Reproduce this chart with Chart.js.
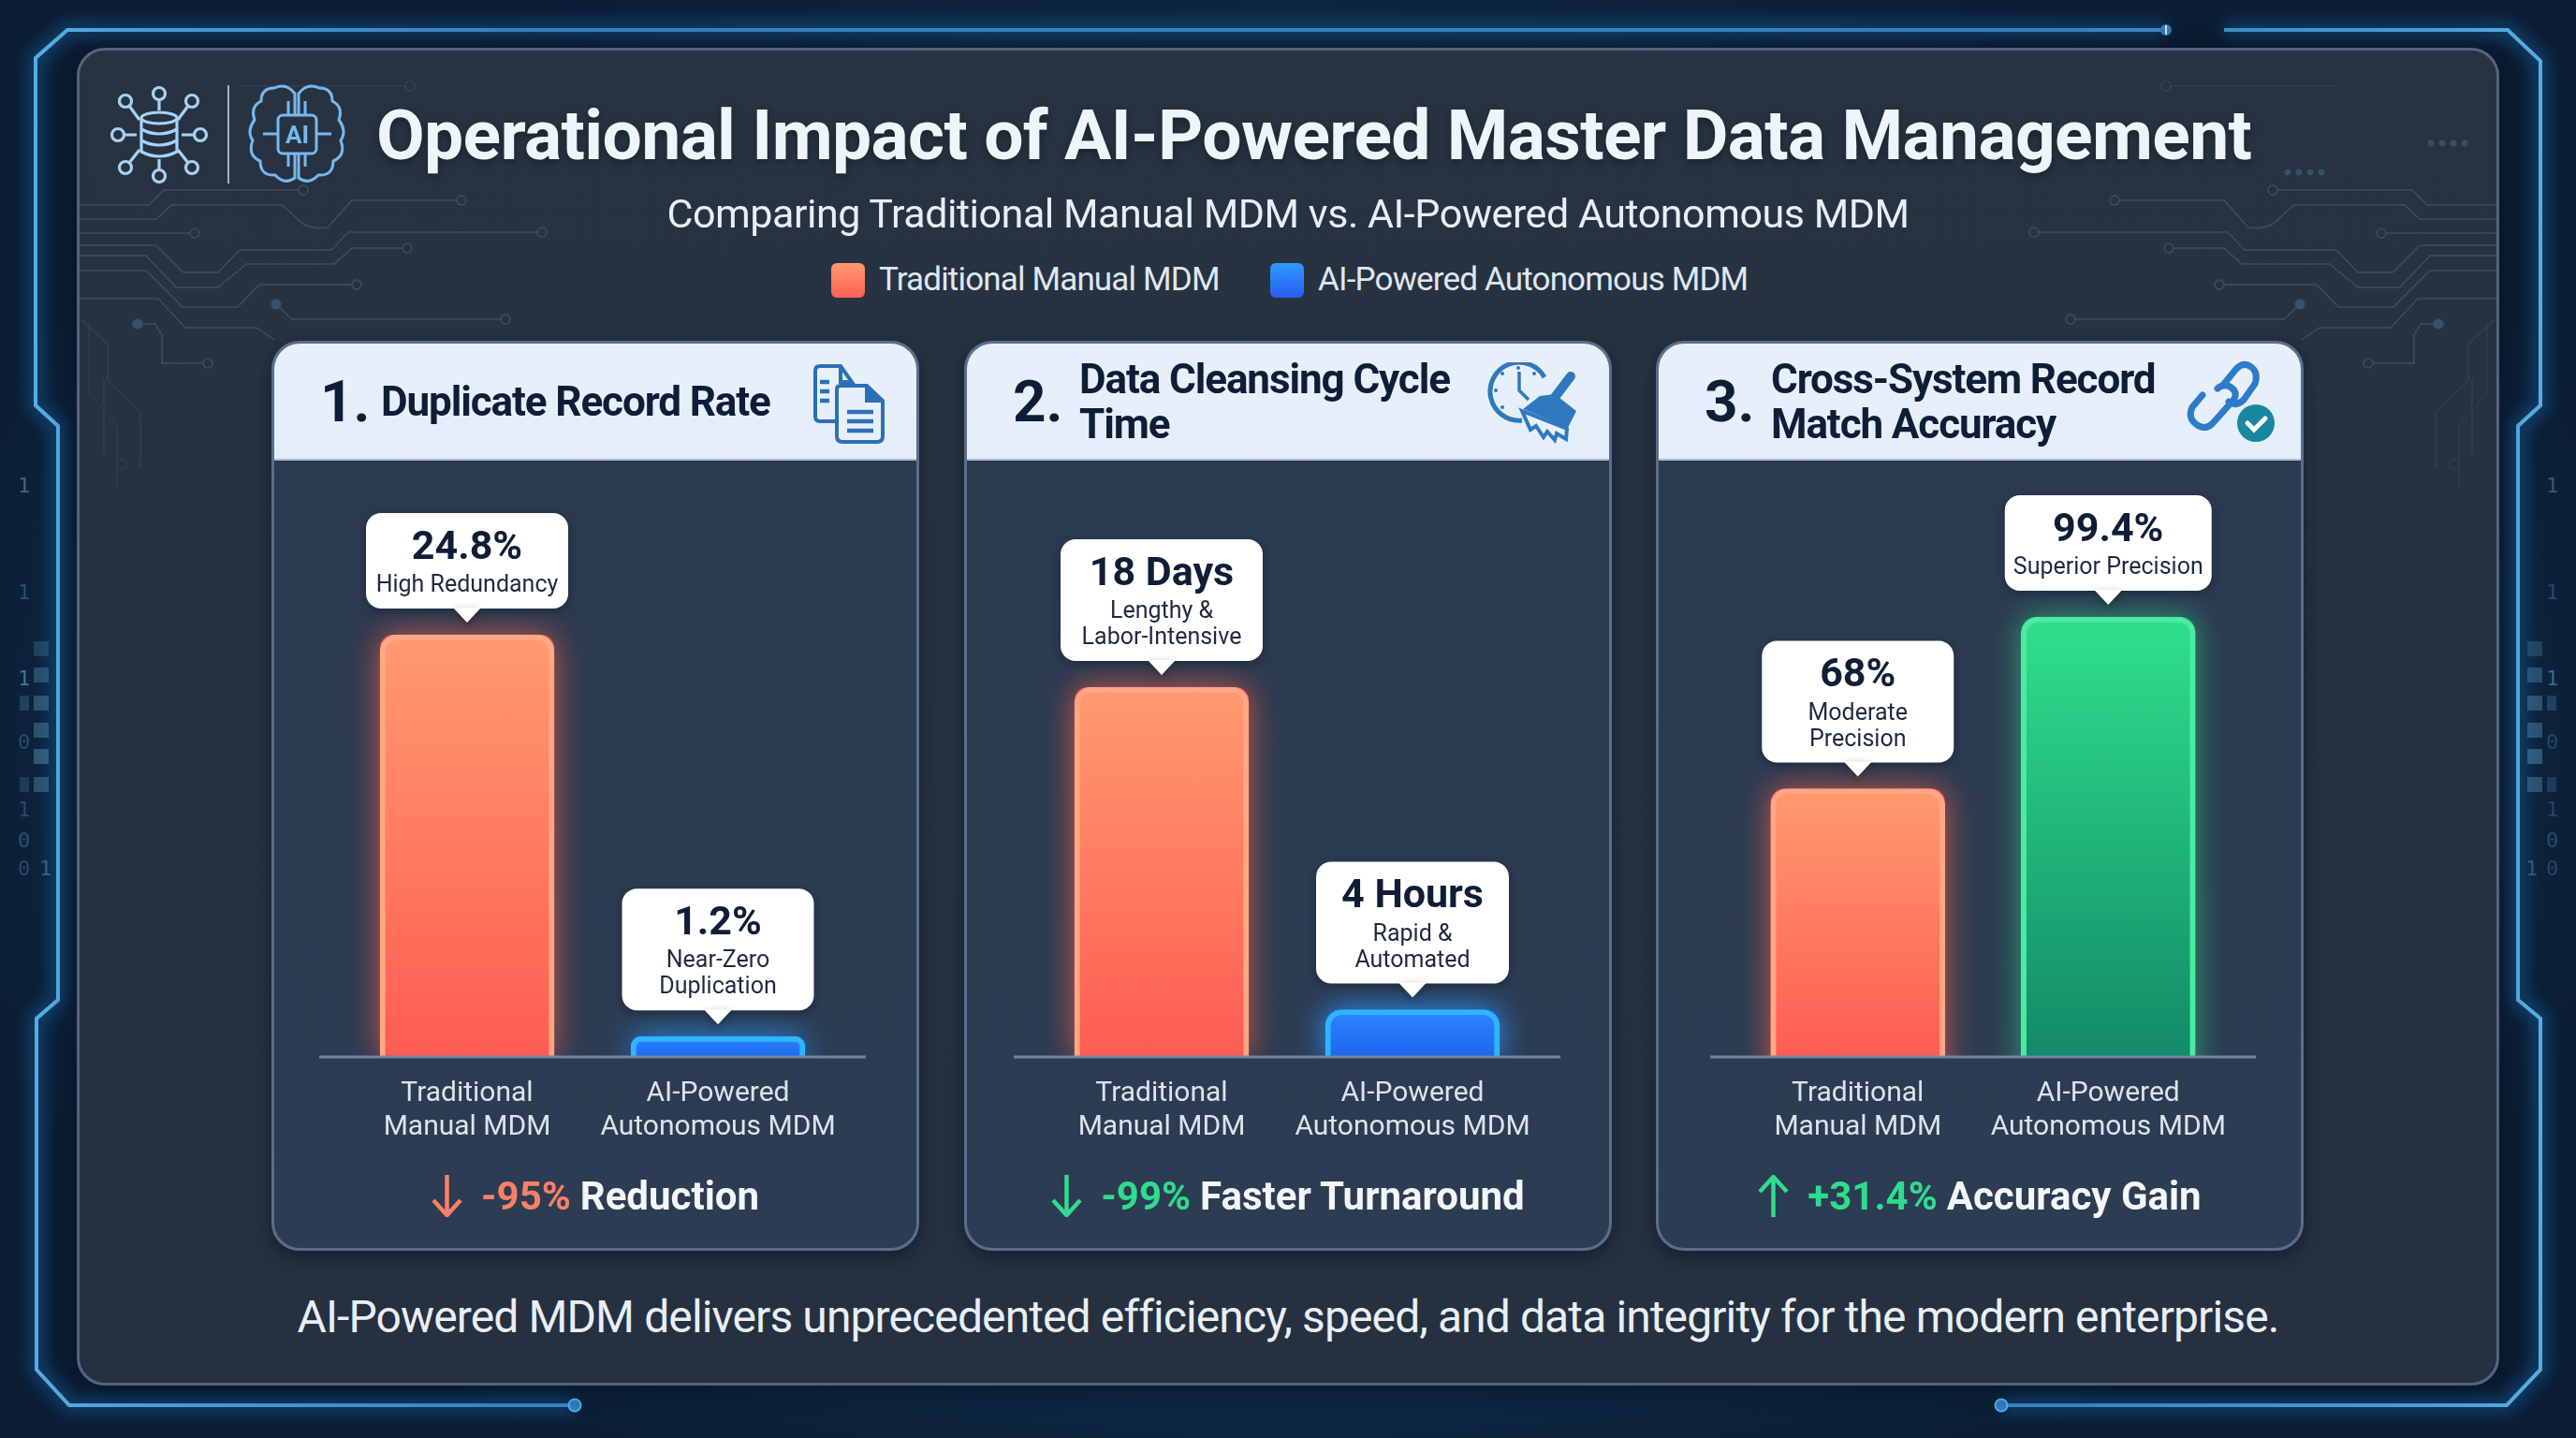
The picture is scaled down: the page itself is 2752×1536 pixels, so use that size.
<!DOCTYPE html>
<html>
<head>
<meta charset="utf-8">
<title>Operational Impact of AI-Powered Master Data Management</title>
<script src="https://cdn.jsdelivr.net/npm/chart.js@4/dist/chart.umd.min.js"></script>
<style>
  html, body { margin: 0; padding: 0; }
  body {
    position: relative; width: 2752px; height: 1536px; overflow: hidden;
    font-family: Roboto, sans-serif; color: #fff;
    background:
      radial-gradient(ellipse 1500px 900px at 50% 50%, #14385a 0%, #10304f 60%, #0b1d33 100%);
  }
  .abs { position: absolute; white-space: nowrap; }
  #panel {
    position: absolute; left: 82px; top: 51px; width: 2582px; height: 1423px; box-sizing: content-box;
    border: 3px solid #55647e; border-radius: 30px;
    background: linear-gradient(180deg, #273341 0%, #253040 100%);
    box-shadow: 0 0 26px rgba(5, 14, 30, .7);
  }
  svg.layer { position: absolute; left: 0; top: 0; }
  #title { left: 402px; top: 94px; line-height: 100px; font-size: 75px; font-weight: 700; color: #eef4fb; letter-spacing: -.64px;
           text-shadow: 0 3px 8px rgba(0, 0, 0, .35); }
  #subtitle { left: 0; width: 2752px; text-align: center; top: 200px; line-height: 56px; font-size: 43px; color: #e8eef6; letter-spacing: -.46px; }
  .swatch { position: absolute; top: 281px; width: 36px; height: 37px; border-radius: 6px; }
  .legend-text { top: 276px; line-height: 46px; font-size: 35px; color: #dfe7f1; letter-spacing: -.84px; }
  #closing { left: 0; width: 2752px; text-align: center; top: 1374px; line-height: 66px; font-size: 48px; color: #e9eef5; letter-spacing: -.89px; }
  .card {
    position: absolute; top: 364px; width: 686px; height: 966px;
    border: 3px solid #5a6e8c; border-radius: 30px; overflow: hidden;
    background: linear-gradient(180deg, #2b3a4f 0%, #2c3c52 100%);
    box-shadow: 0 6px 18px rgba(5, 12, 25, .45);
  }
  .card-head {
    position: absolute; left: 0; top: 0; right: 0; height: 123px;
    background: linear-gradient(180deg, #e7f0fa 0%, #e4eefa 100%);
    border-bottom: 2px solid #a9bdd3;
  }
  .num { position: absolute; top: 0; line-height: 123px; font-size: 62px; font-weight: 700; color: #0e1e38; }
  .head-text { position: absolute; font-size: 44px; line-height: 48px; font-weight: 700; color: #0e1e38; letter-spacing: -1.1px; }
  .card canvas { position: absolute; left: -3px; top: 123px; }
  .card-foot {
    position: absolute; left: 0; right: 0; top: 880px; height: 60px;
    display: flex; align-items: center; justify-content: center;
    font-size: 42px; font-weight: 700; color: #f3f6fa; white-space: nowrap;
  }
  .card-foot svg { margin-right: 20px; }
  .card-foot span { margin-right: 10px; }
  .red { color: #fa7f66; } .grn { color: #2fdc8e; }
</style>
</head>
<body>

<svg class="layer" width="2752" height="1536" style="z-index:0">
  <defs>
    <linearGradient id="frameStroke" x1="0" y1="0" x2="2752" y2="0" gradientUnits="userSpaceOnUse">
      <stop offset="0" stop-color="#55b0e6"/><stop offset=".2" stop-color="#3a86c4"/>
      <stop offset=".8" stop-color="#3a86c4"/><stop offset="1" stop-color="#55b0e6"/>
    </linearGradient>
    <filter id="frameGlow" x="-5%" y="-5%" width="110%" height="110%"><feGaussianBlur stdDeviation="9"/></filter>
    <g id="frameLines" fill="none">
      <path d="M2314 32H72L38 62V433L62 455V1068L39 1088V1463L74 1501H614"/>
      <path d="M2376 32H2679L2714 65V433L2690 455V1068L2714 1088V1463L2678 1501H2138"/>
    </g>
    <g id="bitCells" fill="#4f8fae">
      <rect x="36" y="685" width="16" height="16" opacity=".3"/><rect x="36" y="713" width="16" height="16" opacity=".4"/>
      <rect x="36" y="743" width="16" height="16" opacity=".45"/><rect x="36" y="772" width="16" height="16" opacity=".45"/>
      <rect x="36" y="800" width="16" height="16" opacity=".5"/><rect x="36" y="830" width="16" height="16" opacity=".45"/>
      <rect x="21" y="743" width="10" height="16" opacity=".3"/><rect x="21" y="830" width="10" height="16" opacity=".25"/>
    </g>
  </defs>
  <use href="#frameLines" stroke="#1f7cc8" stroke-width="14" opacity=".45" filter="url(#frameGlow)"/>
  <use href="#frameLines" stroke="url(#frameStroke)" stroke-width="4"/>
  <circle cx="2314" cy="32" r="6" fill="#2f7dc0"/><rect x="2313" y="27" width="2" height="10" fill="#cfe6f8"/>
  <circle cx="614" cy="1501" r="6.5" fill="#2f7dc0" stroke="#55b0e6" stroke-width="2"/>
  <circle cx="2138" cy="1501" r="6.5" fill="#2f7dc0" stroke="#55b0e6" stroke-width="2"/>
  <use href="#bitCells"/>
  <use href="#bitCells" transform="translate(2752,0) scale(-1,1)"/>
  <g font-family="DejaVu Sans Mono" font-size="22" fill="#5d9bb8">
    <text x="19" y="526" opacity=".6">1</text><text x="19" y="640" opacity=".4">1</text>
    <text x="19" y="732" opacity=".7">1</text><text x="19" y="800" opacity=".35">0</text>
    <text x="19" y="872" opacity=".35">1</text><text x="19" y="905" opacity=".4">0</text>
    <text x="42" y="935" opacity=".5">1</text><text x="19" y="935" opacity=".35">0</text>
    <text x="2720" y="526" opacity=".5">1</text><text x="2720" y="640" opacity=".35">1</text>
    <text x="2720" y="732" opacity=".6">1</text><text x="2720" y="800" opacity=".3">0</text>
    <text x="2720" y="872" opacity=".3">1</text><text x="2720" y="905" opacity=".35">0</text>
    <text x="2698" y="935" opacity=".45">1</text><text x="2720" y="935" opacity=".3">0</text>
  </g>
</svg>

<div id="panel"></div>

<svg class="layer" width="2752" height="1536" style="z-index:1">
  <defs>
    <g id="traces" fill="none" stroke="#4d7194" stroke-width="1.5">
      <path d="M85 219H159L175 203H319"/><circle cx="324" cy="203" r="5"/>
      <path d="M85 234H167L183 219H301L325 240Q335 245 350 243L376 214H488"/><circle cx="493" cy="214" r="5"/>
      <path d="M85 249H203"/><circle cx="208" cy="249" r="5"/>
      <path d="M85 262H167L196 291H233L256 267H354L372 248H574"/><circle cx="579" cy="248" r="5"/>
      <path d="M85 273H156L188 307H233L263 282H357L376 265H430"/><circle cx="435" cy="265" r="5"/>
      <path d="M85 289H156L195 328H254L277 304H376"/><circle cx="381" cy="304" r="5"/>
      <path d="M85 319H169L198 350H274L293 363"/>
      <path d="M295 325L312 341H535"/><circle cx="540" cy="341" r="5"/><circle cx="295" cy="325" r="5" fill="#3f7fa3"/>
      <path d="M147 346H166L173 358V388H217"/><circle cx="222" cy="388" r="5"/><circle cx="147" cy="346" r="5" fill="#3f7fa3"/>
      <path d="M433 92H300L255 92" opacity=".5"/><circle cx="438" cy="92" r="5" opacity=".6"/>
      <path d="M85 340L115 367V407L150 440V500" opacity=".5"/><path d="M95 345V420L125 455V520" opacity=".35"/>
      <path d="M111 405V485" opacity=".5"/><circle cx="131" cy="496" r="5" opacity=".4"/>
    </g>
  </defs>
  <use href="#traces" opacity=".45"/>
  <use href="#traces" opacity=".45" transform="translate(2752,0) scale(-1,1)"/>
  <g fill="#4d7194" opacity=".45"><circle cx="2444" cy="184" r="3.5"/><circle cx="2456" cy="184" r="3.5"/><circle cx="2468" cy="184" r="3.5"/><circle cx="2480" cy="184" r="3.5"/>
    <circle cx="2597" cy="153" r="3.5"/><circle cx="2609" cy="153" r="3.5"/><circle cx="2621" cy="153" r="3.5"/><circle cx="2633" cy="153" r="3.5"/></g>

  <!-- hub icon -->
  <g fill="none" stroke="#a7d3f5" stroke-width="3.2">
    <circle cx="170" cy="100" r="6.5"/><circle cx="170" cy="188" r="6.5"/><circle cx="126" cy="144" r="6.5"/><circle cx="214" cy="144" r="6.5"/>
    <circle cx="134" cy="108" r="6.5"/><circle cx="205" cy="108" r="6.5"/><circle cx="134" cy="179" r="6.5"/><circle cx="205" cy="179" r="6.5"/>
    <path d="M170 107V118M170 170V181M133 144H146M194 144H207M138 113L149 128M201 113L190 128M138 174L149 160M201 174L190 160"/>
    <ellipse cx="170" cy="126" rx="19" ry="6"/><path d="M151 126V162Q170 172 189 162V126M151 138Q170 148 189 138M151 150Q170 160 189 150"/>
  </g>
  <path d="M244 91V196" stroke="#c4d4e4" stroke-width="1.6"/>
  <!-- brain with AI chip -->
  <g fill="none" stroke="#78b8ee" stroke-width="3">
    <path d="M315 100Q306 88 293 94Q279 94 279 108Q267 114 272 128Q263 140 270 150Q264 166 278 172Q278 188 294 187Q304 198 315 190V100Z"/>
    <path d="M319 100Q328 88 341 94Q355 94 355 108Q367 114 362 128Q371 140 364 150Q370 166 356 172Q356 188 340 187Q330 198 319 190V100Z"/>
    <rect x="297" y="123" width="41" height="41" rx="5" fill="#273341"/>
    <path d="M297 143H281M338 143H354M308 123V108M326 123V108M308 164V178M326 164V178"/>
  </g>
  <text x="317.5" y="153" text-anchor="middle" font-family="Roboto" font-weight="700" font-size="26" fill="#78b8ee">AI</text>
</svg>

<div id="title" class="abs" style="z-index:2">Operational Impact of AI-Powered Master Data Management</div>
<div id="subtitle" class="abs" style="z-index:2">Comparing Traditional Manual MDM vs. AI-Powered Autonomous MDM</div>
<div style="position:absolute;left:0;top:0;z-index:2">
  <div class="swatch" style="left:888px;background:linear-gradient(180deg,#ff9a6c,#ff5f56)"></div>
  <div class="abs legend-text" style="left:939px">Traditional Manual MDM</div>
  <div class="swatch" style="left:1357px;background:linear-gradient(180deg,#2a9cff,#2a5cf0)"></div>
  <div class="abs legend-text" style="left:1408px">AI-Powered Autonomous MDM</div>
</div>

<div class="card" style="left:290px;z-index:2">
  <div class="card-head">
    <div class="num" style="left:49px">1.</div>
    <div class="head-text" style="left:114px;top:38px">Duplicate Record Rate</div>
    <svg style="position:absolute;left:575px;top:21px" width="80" height="88" fill="none" stroke="#2c6fb5" stroke-width="4">
      <path d="M24 62H8Q3 62 3 57V8Q3 3 8 3H30L42 20H30V3"/><path d="M8 20H18M8 30H18M8 40H18" stroke-width="4.5"/>
      <path d="M30 24H58L75 40V78Q75 84 69 84H32Q26 84 26 78V28Q26 24 30 24Z" fill="#e7f0fa"/><path d="M58 24V40H75" fill="#2c6fb5"/>
      <path d="M37 52H65M37 62H65M37 72H65" stroke-width="4.5"/>
    </svg>
  </div>
  <canvas id="chart-1" width="692" height="750"></canvas>
  <div class="card-foot">
    <svg width="33" height="45" fill="none" stroke="#fa7f66" stroke-width="4.5"><path d="M16.5 0V43M2 27L16.5 43L31 27"/></svg>
    <span class="red">-95%</span>Reduction
  </div>
</div>

<div class="card" style="left:1030px;z-index:2">
  <div class="card-head">
    <div class="num" style="left:49px">2.</div>
    <div class="head-text" style="left:120px;top:14px">Data Cleansing Cycle<br>Time</div>
    <svg style="position:absolute;left:556px;top:20px" width="100" height="92" fill="none" stroke="#2f78bd" stroke-width="5">
      <path d="M37 62A31 31 0 1 1 61 16"/><path d="M34 10V30L44 40" stroke-width="3.5"/>
      <g fill="#2f78bd" stroke="none"><circle cx="33" cy="6" r="2"/><circle cx="9" cy="30" r="2"/><circle cx="16" cy="12" r="2"/><circle cx="16" cy="48" r="2"/><circle cx="50" cy="12" r="2"/>
        <path d="M56 36L72 34L95 52L86 70L38 50Z"/></g>
      <path d="M89 15L70 40" stroke-width="10" stroke-linecap="round"/>
      <path d="M37 52L85 71L84 82L74 76L72 83L64 74L60 80L52 68L46 72Z" fill="#e7f0fa" stroke-width="4"/>
    </svg>
  </div>
  <canvas id="chart-2" width="692" height="750"></canvas>
  <div class="card-foot">
    <svg width="33" height="45" fill="none" stroke="#2fdc8e" stroke-width="4.5"><path d="M16.5 0V43M2 27L16.5 43L31 27"/></svg>
    <span class="grn">-99%</span>Faster Turnaround
  </div>
</div>

<div class="card" style="left:1769px;z-index:2">
  <div class="card-head">
    <div class="num" style="left:49px">3.</div>
    <div class="head-text" style="left:120px;top:14px">Cross-System Record<br>Match Accuracy</div>
    <svg style="position:absolute;left:563px;top:18px" width="100" height="92" fill="none" stroke="#2c7cc8" stroke-width="7" stroke-linecap="round">
      <path d="M41 25L54 9Q62 1 70 7T74 25L62 42Q54 50 46 44"/>
      <path d="M34 30Q42 23 50 30T46 48L28 68Q20 75 11 68T7 50L18 37"/>
      <circle cx="75" cy="67" r="20" fill="#18879f" stroke="none"/>
      <path d="M66 67L73 74L85 62" stroke="#fff" stroke-width="5"/>
    </svg>
  </div>
  <canvas id="chart-3" width="692" height="750"></canvas>
  <div class="card-foot">
    <svg width="33" height="45" fill="none" stroke="#2fdc8e" stroke-width="4.5"><path d="M16.5 45V2M2 18L16.5 2L31 18"/></svg>
    <span class="grn">+31.4%</span>Accuracy Gain
  </div>
</div>

<div id="closing" class="abs" style="z-index:2">AI-Powered MDM delivers unprecedented efficiency, speed, and data integrity for the modern enterprise.</div>

<script>
// categories shared by the three panels
const categories = [['Traditional', 'Manual MDM'], ['AI-Powered', 'Autonomous MDM']];

// values
const duplicateRate = [24.8, 1.2];
const cleansingDays = [18, 2.3];     // 2.3 is the height the "4 Hours" bar is drawn at, it is not to scale
const matchAccuracy = [68, 99.4];

const duplicateValues = ['24.8%', '1.2%'];
const cleansingValues = ['18 Days', '4 Hours'];
const accuracyValues = ['68%', '99.4%'];

const duplicateNotes = [['High Redundancy'], ['Near-Zero', 'Duplication']];
const cleansingNotes = [['Lengthy &', 'Labor-Intensive'], ['Rapid &', 'Automated']];
const accuracyNotes = [['Moderate', 'Precision'], ['Superior Precision']];

// axis ranges, the third panel's axis does not start at zero in the original
const axisMin = [0, 0, 19];
const axisMax = [35.14, 29.12, 128.3];

const FONT = 'Roboto, sans-serif';
const red = { top: '#ff9a70', bottom: '#ff5c52', border: '#ffa684', glow: 'rgba(255,96,72,.75)' };
const blue = { top: '#2a86ff', bottom: '#1f66ee', border: '#2fb4ff', glow: 'rgba(40,150,255,1)' };
const green = { top: '#2fe08c', bottom: '#128a68', border: '#4deaa2', glow: 'rgba(45,225,140,.6)' };

function barGradient(ctx, colors) {
    const chart = ctx.chart;
    if (!chart.chartArea) return colors[ctx.dataIndex].top;
    const c = colors[ctx.dataIndex];
    const top = chart.scales.y.getPixelForValue(ctx.raw);
    const g = chart.ctx.createLinearGradient(0, top, 0, chart.chartArea.bottom);
    g.addColorStop(0, c.top);
    g.addColorStop(1, c.bottom);
    return g;
}

// glow behind the bars, baseline and the white callouts, all placed from the chart's scales
const cardPlugin = {
    id: 'cardPlugin',
    beforeDatasetsDraw(chart, args, opts) {
        const ctx = chart.ctx;
        const meta = chart.getDatasetMeta(0);
        ctx.save();
        ctx.beginPath();
        ctx.rect(0, 0, chart.width, chart.chartArea.bottom);
        ctx.clip();
        meta.data.forEach((bar, i) => {
            const p = bar.getProps(['x', 'y', 'base', 'width'], true);
            ctx.shadowColor = opts.colors[i].glow;
            ctx.shadowBlur = 34;
            ctx.fillStyle = opts.colors[i].bottom;
            ctx.beginPath();
            ctx.roundRect(p.x - p.width / 2, p.y, p.width, p.base - p.y, [14, 14, 0, 0]);
            ctx.fill();
        });
        ctx.restore();
    },
    afterDatasetsDraw(chart, args, opts) {
        const ctx = chart.ctx;
        const xs = chart.scales.x;
        const ys = chart.scales.y;
        const y0 = ys.bottom;

        ctx.save();
        ctx.strokeStyle = '#6f86a8';
        ctx.lineWidth = 3;
        ctx.beginPath();
        ctx.moveTo(xs.left - 24, y0);
        ctx.lineTo(xs.right + 24, y0);
        ctx.stroke();
        ctx.restore();

        chart.data.datasets[0].data.forEach((value, i) => {
            const x = xs.getPixelForValue(i);
            const tip = ys.getPixelForValue(value) - 13;
            const notes = opts.notes[i];
            const h = notes.length > 1 ? 130 : 102;
            const w = opts.widths[i];
            const boxBottom = tip - 15;
            const boxTop = boxBottom - h;

            ctx.save();
            ctx.shadowColor = 'rgba(6,14,28,.35)';
            ctx.shadowBlur = 10;
            ctx.shadowOffsetY = 3;
            ctx.fillStyle = '#ffffff';
            ctx.beginPath();
            ctx.roundRect(x - w / 2, boxTop, w, h, 16);
            ctx.fill();
            ctx.beginPath();
            ctx.moveTo(x - 15, boxBottom - 1);
            ctx.lineTo(x + 15, boxBottom - 1);
            ctx.lineTo(x, tip);
            ctx.closePath();
            ctx.fill();
            ctx.restore();

            ctx.save();
            ctx.textAlign = 'center';
            ctx.textBaseline = 'middle';
            ctx.fillStyle = '#0f1e36';
            ctx.font = `700 43px ${FONT}`;
            ctx.fillText(opts.values[i], x, boxTop + 38);
            ctx.fillStyle = '#1d2a3f';
            ctx.font = `400 25px ${FONT}`;
            notes.forEach((line, n) => ctx.fillText(line, x, boxTop + 78 + n * 28));
            ctx.restore();
        });
    }
};

function buildChart(id, data, index, values, notes, colors, widths, inset) {
    return new Chart(document.getElementById(id), {
        type: 'bar',
        data: {
            labels: categories,
            datasets: [{
                data: data,
                barThickness: 186,
                borderWidth: 6,
                borderSkipped: 'bottom',
                borderRadius: { topLeft: 18, topRight: 18 },
                borderColor: ctx => colors[ctx.dataIndex].border,
                backgroundColor: ctx => barGradient(ctx, colors)
            }]
        },
        options: {
            responsive: false,
            animation: false,
            layout: { padding: { left: inset[0], right: inset[1], top: 0, bottom: 0 } },
            plugins: {
                legend: { display: false },
                tooltip: { enabled: false },
                cardPlugin: { values, notes, colors, widths }
            },
            scales: {
                y: { display: false, min: axisMin[index], max: axisMax[index] },
                x: {
                    grid: { display: false, drawTicks: false },
                    border: { display: false },
                    afterFit(scale) { scale.height = 111; },
                    ticks: {
                        color: '#dce4ee',
                        padding: 21,
                        maxRotation: 0,
                        autoSkip: false,
                        font: { family: FONT, size: 30, lineHeight: 1.2 }
                    }
                }
            }
        },
        plugins: [cardPlugin]
    });
}

buildChart('chart-1', duplicateRate, 0, duplicateValues, duplicateNotes, [red, blue], [216, 205], [75, 81]);
buildChart('chart-2', cleansingDays, 1, cleansingValues, cleansingNotes, [red, blue], [216, 206], [77, 79]);
buildChart('chart-3', matchAccuracy, 2, accuracyValues, accuracyNotes, [red, green], [205, 221], [82, 75]);
</script>
</body>
</html>
